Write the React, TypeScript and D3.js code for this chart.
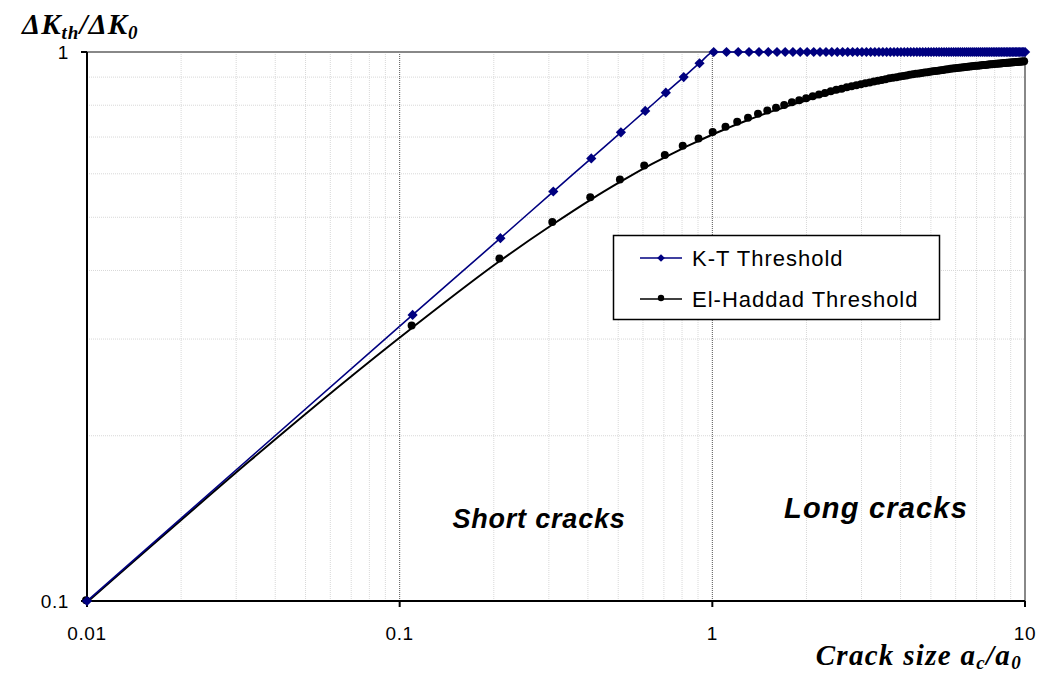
import React from "react";
import * as d3 from "d3";

// Crack size ratio a/a0 sampled every 0.1 from 0.01 to 10.01
const crackSize = [
  0.01, 0.11, 0.21, 0.31, 0.41, 0.51, 0.61, 0.71, 0.81, 0.91,
  1.01, 1.11, 1.21, 1.31, 1.41, 1.51, 1.61, 1.71, 1.81, 1.91,
  2.01, 2.11, 2.21, 2.31, 2.41, 2.51, 2.61, 2.71, 2.81, 2.91,
  3.01, 3.11, 3.21, 3.31, 3.41, 3.51, 3.61, 3.71, 3.81, 3.91,
  4.01, 4.11, 4.21, 4.31, 4.41, 4.51, 4.61, 4.71, 4.81, 4.91,
  5.01, 5.11, 5.21, 5.31, 5.41, 5.51, 5.61, 5.71, 5.81, 5.91,
  6.01, 6.11, 6.21, 6.31, 6.41, 6.51, 6.61, 6.71, 6.81, 6.91,
  7.01, 7.11, 7.21, 7.31, 7.41, 7.51, 7.61, 7.71, 7.81, 7.91,
  8.01, 8.11, 8.21, 8.31, 8.41, 8.51, 8.61, 8.71, 8.81, 8.91,
  9.01, 9.11, 9.21, 9.31, 9.41, 9.51, 9.61, 9.71, 9.81, 9.91,
  10.01,
];

// Kitagawa-Takahashi threshold ratio
const ktThreshold = [
  0.1, 0.332, 0.458, 0.557, 0.64, 0.714, 0.781, 0.843, 0.9, 0.954,
  1, 1, 1, 1, 1, 1, 1, 1, 1, 1,
  1, 1, 1, 1, 1, 1, 1, 1, 1, 1,
  1, 1, 1, 1, 1, 1, 1, 1, 1, 1,
  1, 1, 1, 1, 1, 1, 1, 1, 1, 1,
  1, 1, 1, 1, 1, 1, 1, 1, 1, 1,
  1, 1, 1, 1, 1, 1, 1, 1, 1, 1,
  1, 1, 1, 1, 1, 1, 1, 1, 1, 1,
  1, 1, 1, 1, 1, 1, 1, 1, 1, 1,
  1, 1, 1, 1, 1, 1, 1, 1, 1, 1,
  1,
];

// El-Haddad threshold ratio
const ehThreshold = [
  0.0995, 0.315, 0.417, 0.486, 0.539, 0.581, 0.616, 0.644, 0.669, 0.69,
  0.709, 0.725, 0.74, 0.753, 0.765, 0.776, 0.785, 0.794, 0.803, 0.81,
  0.817, 0.824, 0.83, 0.835, 0.841, 0.846, 0.85, 0.855, 0.859, 0.863,
  0.866, 0.87, 0.873, 0.876, 0.879, 0.882, 0.885, 0.888, 0.89, 0.892,
  0.895, 0.897, 0.899, 0.901, 0.903, 0.905, 0.906, 0.908, 0.91, 0.911,
  0.913, 0.915, 0.916, 0.917, 0.919, 0.92, 0.921, 0.922, 0.924, 0.925,
  0.926, 0.927, 0.928, 0.929, 0.93, 0.931, 0.932, 0.933, 0.934, 0.935,
  0.936, 0.936, 0.937, 0.938, 0.939, 0.939, 0.94, 0.941, 0.942, 0.942,
  0.943, 0.944, 0.944, 0.945, 0.945, 0.946, 0.947, 0.947, 0.948, 0.948,
  0.949, 0.949, 0.95, 0.95, 0.951, 0.951, 0.952, 0.952, 0.953, 0.953,
  0.954,
];

const xTicks = [0.01, 0.1, 1, 10];
const xTickLabels = ["0.01", "0.1", "1", "10"];
const yTicks = [0.1, 1];
const yTickLabels = ["0.1", "1"];
const seriesNames = ["K-T Threshold", "El-Haddad Threshold"];

const W = 1048;
const H = 674;
const left = 87;
const right = 1025;
const top = 52;
const bottom = 601;

const BLUE = "#000080";

export default function App() {
  const x = d3.scaleLog().domain([0.01, 10]).range([left, right]);
  const y = d3.scaleLog().domain([0.1, 1]).range([bottom, top]);

  const minorX: number[] = [];
  [0.01, 0.1, 1].forEach((d) => {
    for (let k = 2; k <= 9; k++) minorX.push(d * k);
  });
  const minorY: number[] = [];
  for (let k = 2; k <= 9; k++) minorY.push(0.1 * k);

  const ktPts = crackSize.map((c, i) => [c, ktThreshold[i]] as [number, number]);
  const ehPts = crackSize.map((c, i) => [c, ehThreshold[i]] as [number, number]);

  const line = d3
    .line<[number, number]>()
    .x((d) => x(d[0]))
    .y((d) => y(d[1]))
    .curve(d3.curveMonotoneX);

  const diamond = d3.symbol().type(d3.symbolSquare).size(52)() as string;
  const legendDiamond = d3.symbol().type(d3.symbolSquare).size(30)() as string;

  const arial = "Arial, 'Liberation Sans', sans-serif";
  const times = "'Times New Roman', 'Liberation Serif', serif";

  return (
    <svg
      width={W}
      height={H}
      style={{ position: "absolute", left: 0, top: 0, background: "#fff" }}
    >
      {/* minor grid */}
      <g stroke="#d8d8d8" strokeWidth={1} strokeDasharray="1,1">
        {minorX.map((v) => (
          <line key={"mx" + v} x1={x(v)} x2={x(v)} y1={top} y2={bottom} />
        ))}
        {minorY.map((v) => (
          <line key={"my" + v} x1={left} x2={right} y1={y(v)} y2={y(v)} />
        ))}
      </g>
      {/* major vertical grid */}
      <g stroke="#555" strokeWidth={1} strokeDasharray="1,1">
        {[0.1, 1].map((v) => (
          <line key={"Mx" + v} x1={x(v)} x2={x(v)} y1={top} y2={bottom} />
        ))}
      </g>
      {/* top and right frame */}
      <line x1={left} x2={right} y1={top} y2={top} stroke="#888" strokeWidth={2} />
      <line x1={right} x2={right} y1={top} y2={bottom} stroke="#888" strokeWidth={2} />

      {/* axes */}
      <line x1={left} x2={left} y1={top} y2={bottom + 1} stroke="#000" strokeWidth={2} />
      <line x1={left - 1} x2={right} y1={bottom} y2={bottom} stroke="#000" strokeWidth={2} />
      {yTicks.map((v, i) => (
        <g key={"yt" + v}>
          <line x1={left - 6} x2={left} y1={y(v)} y2={y(v)} stroke="#000" strokeWidth={2} />
          <text
            x={left - 18}
            y={y(v) + 7}
            textAnchor="end"
            fontFamily={arial}
            fontSize={19}
            letterSpacing={0.6}
          >
            {yTickLabels[i]}
          </text>
        </g>
      ))}
      {xTicks.map((v, i) => (
        <g key={"xt" + v}>
          <line x1={x(v)} x2={x(v)} y1={bottom} y2={bottom + 6} stroke="#000" strokeWidth={2} />
          <text
            x={x(v)}
            y={bottom + 39}
            textAnchor="middle"
            fontFamily={arial}
            fontSize={19}
            letterSpacing={0.6}
          >
            {xTickLabels[i]}
          </text>
        </g>
      ))}

      {/* series */}
      <path d={line(ehPts) ?? ""} fill="none" stroke="#000" strokeWidth={2} />
      <path d={line(ktPts) ?? ""} fill="none" stroke={BLUE} strokeWidth={1.6} />
      <g fill="#000" transform="translate(-1,-2)">
        {ehPts.map((d, i) => (
          <circle key={"eh" + i} cx={x(d[0])} cy={y(d[1])} r={4} />
        ))}
      </g>
      <g fill={BLUE}>
        {ktPts.map((d, i) => (
          <path
            key={"kt" + i}
            d={diamond}
            transform={`translate(${x(d[0])},${y(d[1])}) rotate(45)`}
          />
        ))}
      </g>

      {/* annotations */}
      <text
        x={539}
        y={528}
        textAnchor="middle"
        fontFamily={arial}
        fontSize={27}
        fontWeight="bold"
        fontStyle="italic"
        letterSpacing={0.8}
      >
        Short cracks
      </text>
      <text
        x={876}
        y={518}
        textAnchor="middle"
        fontFamily={arial}
        fontSize={29}
        fontWeight="bold"
        fontStyle="italic"
        letterSpacing={1.2}
      >
        Long cracks
      </text>

      {/* legend */}
      <rect x={613.5} y={235.5} width={326} height={84} fill="#fff" stroke="#000" strokeWidth={1.5} />
      <line x1={640} x2={682} y1={258} y2={258} stroke={BLUE} strokeWidth={1.6} />
      <path d={legendDiamond} transform="translate(661,258) rotate(45)" fill={BLUE} />
      <text x={692} y={266} fontFamily={arial} fontSize={22} letterSpacing={1}>
        {seriesNames[0]}
      </text>
      <line x1={640} x2={682} y1={299} y2={299} stroke="#000" strokeWidth={1.6} />
      <circle cx={661} cy={298} r={3.2} fill="#000" />
      <text x={692} y={307} fontFamily={arial} fontSize={22} letterSpacing={1}>
        {seriesNames[1]}
      </text>

      {/* axis titles */}
      <text x={22} y={34} fontFamily={times} fontSize={29} fontWeight="bold" fontStyle="italic" letterSpacing={1}>
        ΔK<tspan fontSize={19} dy={5}>th</tspan>
        <tspan dy={-5}>/ΔK</tspan>
        <tspan fontSize={19} dy={5}>0</tspan>
      </text>
      <text x={1022} y={665} textAnchor="end" fontFamily={times} fontSize={29} fontWeight="bold" fontStyle="italic" letterSpacing={1.3}>
        Crack size a<tspan fontSize={19} dy={4}>c</tspan>
        <tspan dy={-4}>/a</tspan>
        <tspan fontSize={19} dy={4}>0</tspan>
      </text>
    </svg>
  );
}
